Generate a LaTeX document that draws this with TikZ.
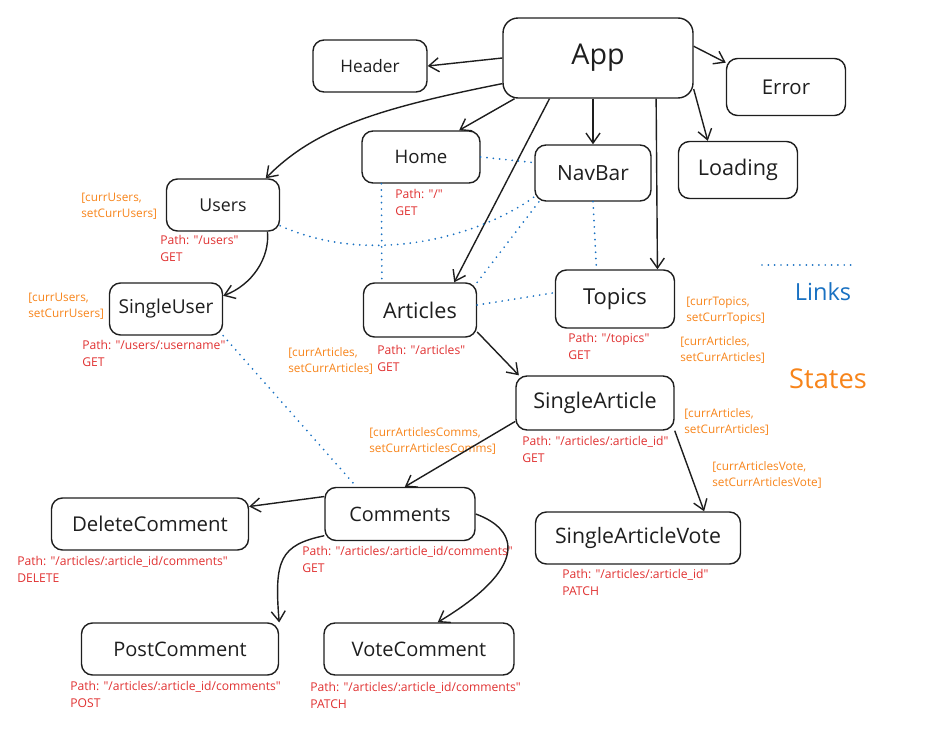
\documentclass[tikz,border=0pt]{standalone}
\usepackage{fontspec}
\setmainfont{Open Sans}
\usetikzlibrary{arrows.meta}
\definecolor{inkgray}{HTML}{1E1E1E}
\definecolor{pathred}{HTML}{E03131}
\definecolor{stateorange}{HTML}{F7841A}
\definecolor{linkblue}{HTML}{1971C2}
\begin{document}
\begin{tikzpicture}[x=0.02cm, y=-0.02cm,
    comp/.style={draw=inkgray, line width=0.8pt, rounded corners=2.2mm, text=inkgray, inner sep=0pt},
    route/.style={text=pathred, font=\fontsize{6.9}{9.5}\selectfont, align=left, anchor=north west, inner sep=0pt},
    state/.style={text=stateorange, font=\fontsize{6.7}{9.1}\selectfont, align=left, anchor=north west, inner sep=0pt},
    child/.style={draw=inkgray, line width=0.8pt, -{Straight Barb[length=2mm, width=2.8mm]}},
    link/.style={draw=linkblue, line width=1.1pt, dash pattern=on 0pt off 3.6pt, line cap=round}]
  \useasboundingbox (0,0) rectangle (929,729);

  % components
  \node[comp, rounded corners=3mm, minimum width=3.8cm, minimum height=1.6cm, font=\fontsize{16.3}{18}\selectfont] (App) at (598,58) {App};
  \foreach \name/\x/\y/\w/\h/\s in {Header/370/66/114/52/9.8, Error/786/87/119/57/11.6,
      Loading/738/170/119/57/12.3, Home/421/157/118/52/10.6, NavBar/593/173/116/56/11.9,
      Users/223/205/113/52/10.1, SingleUser/166/309/113/52/10.9, Articles/420/310/113/54/12.3,
      Topics/615/299/119/58/12.5, SingleArticle/595/403/158/54/12.3, Comments/400/514/150/53/11.3,
      DeleteComment/150/524/197/52/11.6, SingleArticleVote/638/538/205/52/12.1,
      PostComment/180/649/197/52/11.4, VoteComment/419/649/190/52/11.4} {
    \node[comp, minimum width=\w*0.02cm, minimum height=\h*0.02cm, font=\fontsize{\s}{14}\selectfont] (\name) at (\x,\y) {\name};
  }

  % routes
  \node[route] (r-users) at (160,235) {Path: \textquotedbl/users\textquotedbl\\GET};
  \node[route] (r-home) at (395,189) {Path: \textquotedbl/\textquotedbl\\GET};
  \node[route] (r-singleuser) at (82,340) {Path: \textquotedbl/users/:username\textquotedbl\\GET};
  \node[route] (r-articles) at (377,345) {Path: \textquotedbl/articles\textquotedbl\\GET};
  \node[route] (r-topics) at (568,333) {Path: \textquotedbl/topics\textquotedbl\\GET};
  \node[route] (r-singlearticle) at (522,436) {Path: \textquotedbl/articles/:article\_id\textquotedbl\\GET};
  \node[route] (r-comments) at (302,546) {Path: \textquotedbl/articles/:article\_id/comments\textquotedbl\\GET};
  \node[route] (r-delete) at (17,556) {Path: \textquotedbl/articles/:article\_id/comments\textquotedbl\\DELETE};
  \node[route] (r-vote) at (562,569) {Path: \textquotedbl/articles/:article\_id\textquotedbl\\PATCH};
  \node[route] (r-post) at (70,681) {Path: \textquotedbl/articles/:article\_id/comments\textquotedbl\\POST};
  \node[route] (r-votecomm) at (310,682) {Path: \textquotedbl/articles/:article\_id/comments\textquotedbl\\PATCH};

  % states
  \node[state] (s-users) at (81,193) {[currUsers,\\setCurrUsers]};
  \node[state] (s-singleuser) at (28,293) {[currUsers,\\setCurrUsers]};
  \node[state] (s-articles) at (288,347) {[currArticles,\\setCurrArticles]};
  \node[state] (s-topics) at (686,297) {[currTopics,\\setCurrTopics]};
  \node[state] (s-topicsart) at (680,336) {[currArticles,\\setCurrArticles]};
  \node[state] (s-singlearticle) at (684,408) {[currArticles,\\setCurrArticles]};
  \node[state] (s-comments) at (369,427) {[currArticlesComms,\\setCurrArticlesComms]};
  \node[state] (s-vote) at (712,461) {[currArticlesVote,\\setCurrArticlesVote]};

  % legend
  \coordinate (lg-a) at (762,265);
  \coordinate (lg-b) at (855,265);
  \draw[link] (lg-a) -- (lg-b);
  \node[text=linkblue, font=\fontsize{13.4}{15}\selectfont] (lg-links) at (823,292) {Links};
  \node[text=stateorange, font=\fontsize{15.5}{17}\selectfont] (lg-states) at (828,379) {States};

  % children
  \draw[child] (App.west) -- (Header.east);
  \draw[child] (App.195) .. controls (380,108) and (315,128) .. (Users.32);
  \draw[child] (App.206) -- (Home.35);
  \draw[child] (App.220) -- (Articles.39);
  \draw[child] (App.south -| NavBar.north) -- (NavBar.north);
  \draw[child] (App.-35) -- (Topics.35);
  \draw[child] (App.-18) -- (Loading.136);
  \draw[child] (App.7) -- (Error.158);
  \draw[child] (Users.-31) .. controls (270,258) and (252,285) .. (SingleUser.13);
  \draw[child] (Articles.-21) -- (SingleArticle.160);
  \draw[child] (SingleArticle.193) -- (Comments.80);
  \draw[child] (SingleArticle.south east) -- (SingleArticleVote.22);
  \draw[child] (Comments.167) -- (DeleteComment.10);
  \draw[child] (Comments.196) .. controls (280,545) and (274,560) .. (PostComment.15.5);
  \draw[child] (Comments.0) .. controls (520,530) and (528,568) .. (VoteComment.55);

  % links
  \draw[link] (Home.east) -- (NavBar.170);
  \draw[link] (Home.214) -- (Articles.144);
  \draw[link] (Users.-20) .. controls (380,270) and (490,230) .. (NavBar.202);
  \draw[link] (Articles.north east) -- (NavBar.208);
  \draw[link] (NavBar.south) -- (Topics.122);
  \draw[link] (Articles.5) -- (Topics.174);
  \draw[link] (SingleUser.south east) -- (Comments.148);
\end{tikzpicture}
\end{document}
